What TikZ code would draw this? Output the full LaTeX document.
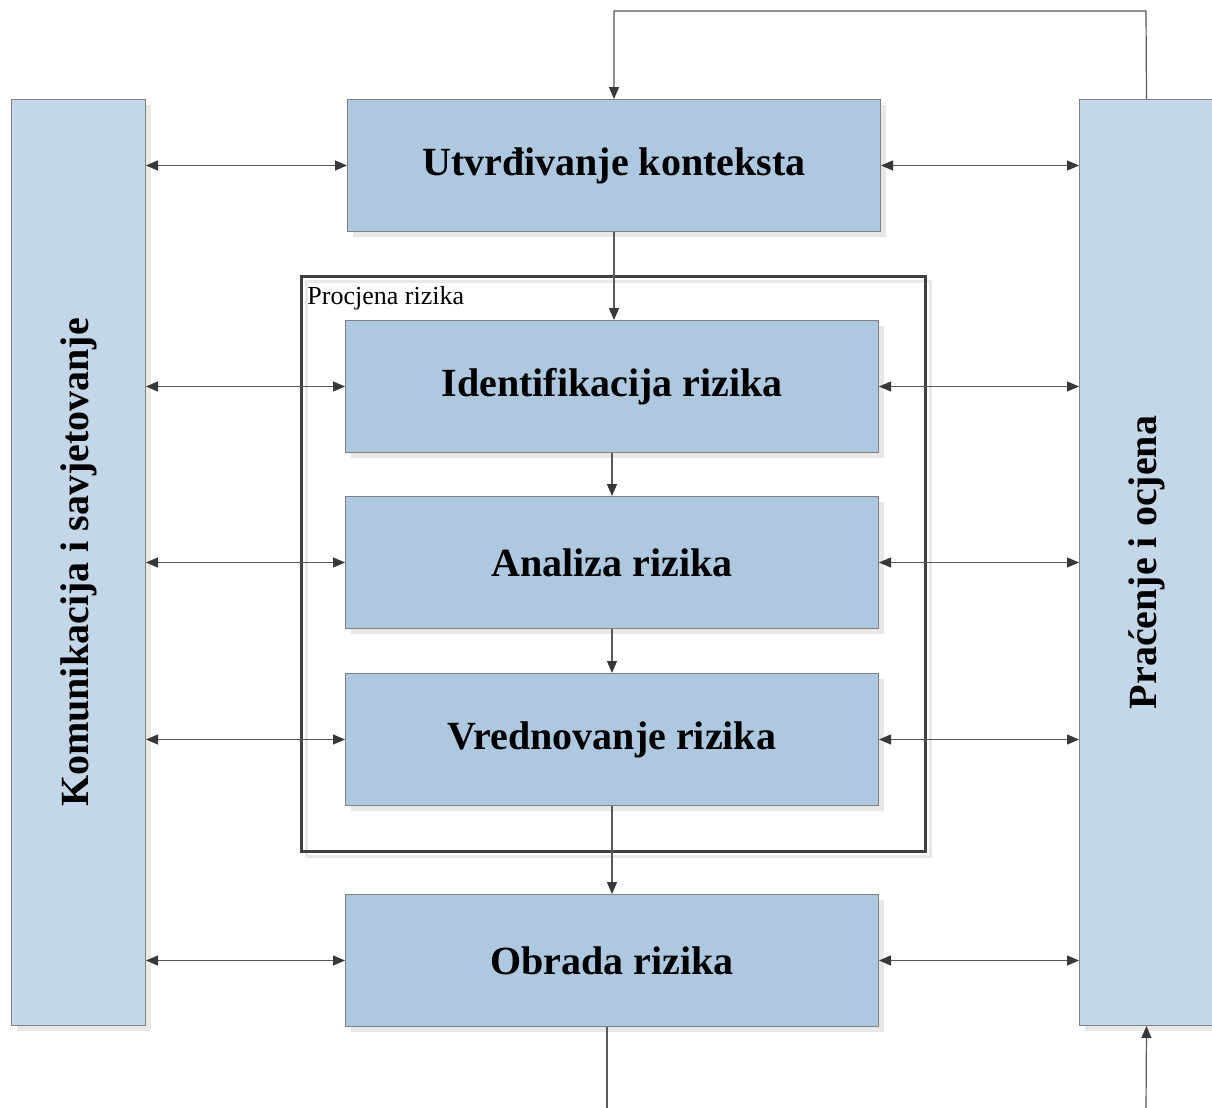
\documentclass[tikz,border=0pt]{standalone}
\usepackage{fontspec}
\setmainfont{Liberation Serif}
\usetikzlibrary{arrows.meta}
\definecolor{boxblue}{HTML}{ADC8DF}
\definecolor{barblue}{HTML}{C4D7E8}
\begin{document}
\begin{tikzpicture}[x=0.5pt,y=-0.5pt,
  shadowed/.style={preaction={fill=black!9, draw=none, transform canvas={shift={(2.5pt,-2.5pt)}}}},
  proc/.style={draw=black!50, fill=boxblue, line width=0.5pt, minimum width=266.5pt, minimum height=66pt,
    anchor=north west, inner sep=0pt, font=\fontsize{20}{24}\selectfont\bfseries, shadowed},
  bar/.style={draw=black!50, fill=barblue, line width=0.5pt, minimum width=67pt, minimum height=463pt,
    anchor=north west, inner sep=0pt, shadowed},
  frm/.style={draw=black!75, line width=1.5pt, minimum width=312pt, minimum height=287.5pt,
    anchor=north west, inner sep=0pt,
    preaction={draw=black!9, line width=1.5pt, transform canvas={shift={(2.5pt,-2.5pt)}}}},
  vlabel/.style={rotate=90, font=\fontsize{20}{24}\selectfont\bfseries, inner sep=0pt},
  ln/.style={draw=black!65, line width=0.6pt},
  arr/.style={ln, -{Triangle[length=6pt,width=5pt,color=black!78]}},
  dbl/.style={ln, {Triangle[length=6pt,width=5pt,color=black!78]}-{Triangle[length=6pt,width=5pt,color=black!78]}}
]
\useasboundingbox (0,0) rectangle (1212,1108);
\fill[white] (0,0) rectangle (1212,1108);

% side bars
\node[bar] (kom) at (11,99) {};
\node[bar] (prac) at (1079,99) {};
\node[vlabel] (koml) at (kom.center) {Komunikacija i savjetovanje};
\node[vlabel] (pracl) at (prac.center) {Praćenje i ocjena};

% frame
\node[frm] (pr) at (300,275) {};
\node[anchor=base west, font=\fontsize{13}{15}\selectfont, inner sep=0pt] (prl) at (307,304) {Procjena rizika};

% process boxes
\node[proc] (b1) at (347,99) {Utvrđivanje konteksta};
\node[proc] (id) at (345,320) {Identifikacija rizika};
\node[proc] (an) at (345,496) {Analiza rizika};
\node[proc] (vr) at (345,673) {Vrednovanje rizika};
\node[proc] (ob) at (345,894) {Obrada rizika};

% vertical flow
\draw[arr] (b1.south) -- (b1.south |- id.north);
\draw[arr] (id.south) -- (an.north);
\draw[arr] (an.south) -- (vr.north);
\draw[arr] (vr.south) -- (ob.north);

% feedback loop at top
\coordinate (topr) at (1146,11);
\draw[arr] (prac.north) -- (topr) -| (b1.north);

% bottom connectors
\coordinate (outb) at (607,1112);
\draw[ln] (outb |- ob.south) -- (outb);
\coordinate (inb) at (1146,1112);
\draw[arr] (inb) -- (prac.south);

% horizontal double arrows
\foreach \n in {b1,id,an,vr,ob}{
  \draw[dbl] (kom.east |- \n.west) -- (\n.west);
  \draw[dbl] (\n.east) -- (prac.west |- \n.east);
}
\end{tikzpicture}
\end{document}
